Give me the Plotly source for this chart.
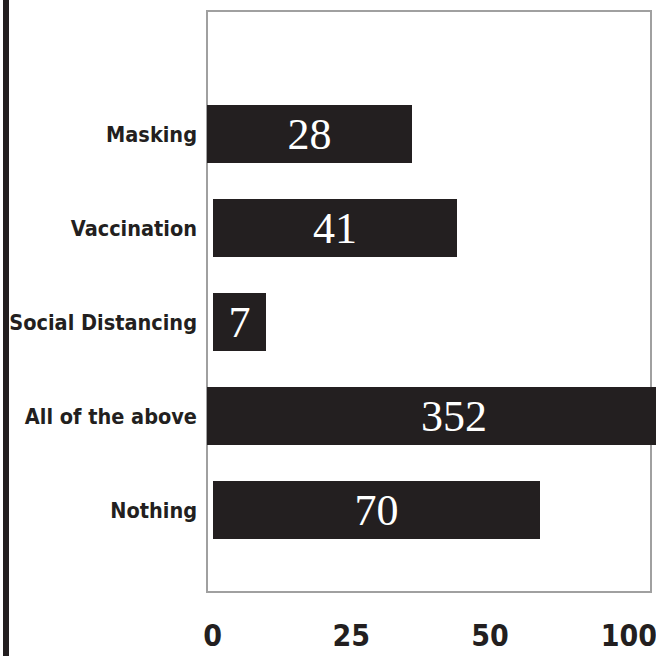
import plotly.graph_objects as go

# Data
categories = ["Masking", "Vaccination", "Social Distancing", "All of the above", "Nothing"]
counts = [28, 41, 7, 352, 70]                 # labels printed in the bars
bar_start = [-1, 0, 0, -1, 0]                 # where each drawn bar begins (axis units)
bar_end = [36, 44, 9.6, 88, 59]               # where each drawn bar ends (axis units)
tick_values = [0, 25, 50, 75]
tick_labels = ["0", "25", "50", "100"]

INK = "#231f20"
LABEL_FONT = "Liberation Sans Narrow, DejaVu Sans Condensed, Arial Narrow, sans-serif"

lengths = [e - s for s, e in zip(bar_start, bar_end)]

fig = go.Figure(
    go.Bar(
        y=categories,
        x=lengths,
        base=bar_start,
        orientation="h",
        width=0.62,
        marker=dict(color=INK, line=dict(width=0)),
        text=[str(v) for v in counts],
        textposition="inside",
        insidetextanchor="middle",
        constraintext="none",
        textfont=dict(family="Liberation Serif, Times New Roman, serif", size=44, color="white"),
        hoverinfo="skip",
    )
)

W, H = 656, 656
ml, mr, mt, mb = 207, 0, 11, 64
plot_w = W - ml - mr
plot_h = H - mt - mb

# gray frame around the plotting area (right edge at x=651 px)
fig.add_shape(type="rect", xref="paper", yref="paper",
              x0=0, x1=(651 - ml) / plot_w, y0=0, y1=1,
              line=dict(color="#a0a0a0", width=2), fillcolor="rgba(0,0,0,0)", layer="below")
# dark vertical rule at the far left of the page
fig.add_shape(type="line", xref="paper", yref="paper",
              x0=(6 - ml) / plot_w, x1=(6 - ml) / plot_w,
              y0=-mb / plot_h, y1=1 + mt / plot_h,
              line=dict(color=INK, width=6))

fig.update_layout(
    width=W, height=H,
    margin=dict(l=ml, r=mr, t=mt, b=mb, pad=0),
    paper_bgcolor="white", plot_bgcolor="white",
    showlegend=False,
    bargap=0,
    xaxis=dict(
        range=[-1, 79.9],
        tickmode="array", tickvals=tick_values, ticktext=tick_labels,
        tickfont=dict(family=LABEL_FONT, size=30, color=INK, weight="bold"),
        showgrid=False, zeroline=False, showline=False, ticks="",
        ticklabelstandoff=23, ticklabeloverflow="allow", fixedrange=True,
    ),
    yaxis=dict(
        type="category", categoryorder="array", categoryarray=categories,
        range=[4.87, -1.31],
        tickfont=dict(family=LABEL_FONT, size=21.5, color=INK, weight="bold"),
        showgrid=False, zeroline=False, showline=False, ticks="",
        ticklabelstandoff=9, ticklabeloverflow="allow", fixedrange=True,
    ),
)

fig.write_html(
    "out.html",
    config={"displayModeBar": False},
    post_script=(
        "document.body.style.margin='0';document.body.style.padding='0';"
        "document.body.style.overflow='hidden';"
        "document.documentElement.style.overflow='hidden';"
    ),
)
